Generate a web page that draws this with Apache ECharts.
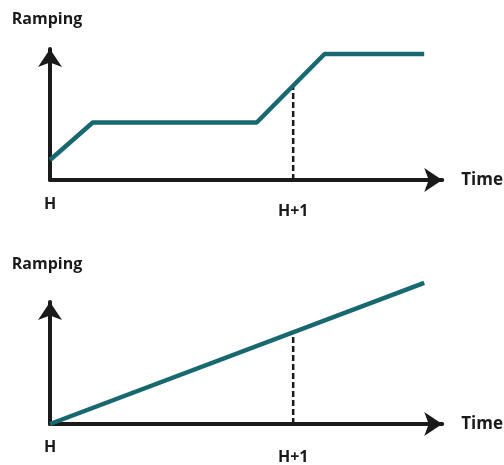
<!DOCTYPE html>
<html><head><meta charset="utf-8">
<script src="https://cdn.jsdelivr.net/npm/echarts@6/dist/echarts.min.js"></script>
<style>html,body{margin:0;padding:0;background:#fff}#c{width:504px;height:465px}</style>
</head><body><div id="c"></div>
<script>
// Data (arbitrary units)
const topX = [0, 10.9, 52.7, 70.0, 95.4];
const topY = [15.3, 43.9, 43.9, 96.2, 96.2];
const topGuideX = [62, 62];
const topGuideY = [0, 72];
const bottomX = [0, 95.4];
const bottomY = [0, 115.6];
const bottomGuideX = [62, 62];
const bottomGuideY = [0, 75];
const tickValues = [0, 62];
const tickLabels = ['H', 'H+1'];
const yName = 'Ramping';
const xName = 'Time';

const TEAL = '#17696f';
const INK = '#1a1a1a';
const FONT = '"Open Sans", sans-serif';

const pairs = (xs, ys) => xs.map((x, i) => [x, ys[i]]);

function xAxisFor(gridIndex, margin, h1pad, timePad) {
  return {
    type: 'value', gridIndex, min: 0, max: 100,
    splitLine: {show: false}, axisTick: {show: false},
    axisLine: {show: true, symbol: ['none', 'arrow'], symbolSize: [18, 18],
      lineStyle: {color: INK, width: 4}},
    axisLabel: {
      customValues: tickValues, margin,
      formatter: v => {
        const i = tickValues.indexOf(v);
        if (i < 0) return '';
        return i === 0 ? '{a|' + tickLabels[i] + '}' : '{b|' + tickLabels[i] + '}';
      },
      rich: {
        a: {fontFamily: FONT, fontSize: 16, fontWeight: 'bold', color: INK},
        b: {fontFamily: FONT, fontSize: 16, fontWeight: 'bold', color: INK, padding: [h1pad, 0, 0, 0]}
      }
    },
    name: xName, nameLocation: 'end', nameGap: 19,
    nameTextStyle: {fontFamily: FONT, fontSize: 17, fontWeight: 'bold', color: INK, padding: timePad}
  };
}
function yAxisFor(gridIndex, max, gap) {
  return {
    type: 'value', gridIndex, min: 0, max,
    splitLine: {show: false}, axisTick: {show: false}, axisLabel: {show: false},
    axisLine: {show: true, symbol: ['none', 'arrow'], symbolSize: [18, 18],
      lineStyle: {color: INK, width: 4}},
    name: yName, nameLocation: 'end', nameGap: gap,
    nameTextStyle: {fontFamily: FONT, fontSize: 16, fontWeight: 'bold', color: INK, padding: [0, 6, 0, 0]}
  };
}

const chart = echarts.init(document.getElementById('c'), null, {renderer: 'canvas'});
chart.setOption({
  backgroundColor: '#fff',
  animation: false,
  grid: [
    {left: 50, top: 49, width: 393, height: 131},
    {left: 50, top: 302, width: 393, height: 122}
  ],
  xAxis: [xAxisFor(0, 16, 7, [0, 0, 0, 0]), xAxisFor(1, 15, 10, [16, 0, 0, 0])],
  yAxis: [yAxisFor(0, 100, 22), yAxisFor(1, 100, 30)],
  series: [
    {type: 'line', xAxisIndex: 0, yAxisIndex: 0, data: pairs(topGuideX, topGuideY), symbol: 'none',
      lineStyle: {color: INK, width: 2.5, type: [6, 3]}, z: 1, silent: true},
    {type: 'line', xAxisIndex: 0, yAxisIndex: 0, data: pairs(topX, topY), symbol: 'none', clip: false,
      lineStyle: {color: TEAL, width: 4.5}, z: 3},
    {type: 'line', xAxisIndex: 1, yAxisIndex: 1, data: pairs(bottomGuideX, bottomGuideY), symbol: 'none',
      lineStyle: {color: INK, width: 2.5, type: [6, 3]}, z: 1, silent: true},
    {type: 'line', xAxisIndex: 1, yAxisIndex: 1, data: pairs(bottomX, bottomY), symbol: 'none', clip: false,
      lineStyle: {color: TEAL, width: 4.5}, z: 3}
  ]
});
</script></body></html>
